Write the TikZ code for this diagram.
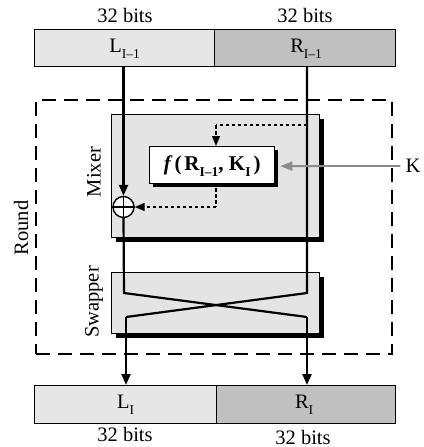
\documentclass[tikz,border=0pt]{standalone}
\usepackage{fontspec}
\setmainfont{Liberation Serif}
\usetikzlibrary{arrows.meta,calc}
\definecolor{lightg}{HTML}{E6E6E6}
\definecolor{darkg}{HTML}{C0C0C0}
\definecolor{boxg}{HTML}{E4E4E4}
\definecolor{keyg}{HTML}{8C8C8C}
\newcommand\mysub[1]{\raisebox{-0.28em}{\fontsize{13.5}{14}\selectfont #1}}
\begin{document}
\begin{tikzpicture}[x=1pt,y=-1pt,
  txt/.style={font=\fontsize{20.5}{22}\selectfont, inner sep=0pt},
  box/.style={draw=black, line width=1.3pt, inner sep=0pt, anchor=north west},
  lbox/.style={box, fill=lightg},
  dbox/.style={box, fill=darkg},
  gbox/.style={box, fill=boxg},
  wbox/.style={box, fill=white},
  wire/.style={line width=2.2pt, line join=miter},
  tip/.style={-{Triangle[length=11pt,width=9pt]}},
  dline/.style={line width=1.3pt, dash pattern=on 3.5pt off 2.5pt},
  dtip/.style={-{Triangle[length=10pt,width=8pt]}},
  shadow/.style={fill=black}
]
\useasboundingbox (0,0) rectangle (423,447);

% top registers
\node[lbox, minimum width=180pt, minimum height=37pt] (Lt) at (34,29) {};
\node[dbox, minimum width=181pt, minimum height=37pt] (Rt) at (214,29) {};
\node[txt] (Ltl) at ($(Lt.center)+(0,1)$) {L\mysub{I–1}};
\node[txt] (Rtl) at ($(Rt.center)+(1,1)$) {R\mysub{I–1}};
\node[txt] (bl1) at (125,15) {32 bits};
\node[txt] (bl2) at (305,15) {32 bits};

% round dashed frame
\node[box, draw=black, line width=1.7pt, dash pattern=on 14pt off 8pt, minimum width=356pt, minimum height=254pt] (round) at (35,99) {};
\node[txt, rotate=90] (roundl) at (21,228) {Round};

% mixer
\fill[shadow] (116,119) rectangle (324,242);
\node[gbox, minimum width=208pt, minimum height=123pt] (mix) at (111,114) {};
\node[txt, rotate=90] (mixl) at (94,172) {Mixer};

% f box
\fill[shadow] (153,150) rectangle (278,187);
\node[wbox, minimum width=125pt, minimum height=37pt] (fb) at (149,146) {};
\node[txt, font=\fontsize{21}{22}\selectfont\bfseries] (fl) at ($(fb.center)+(0,1)$) {\textit{f}\hspace{2pt}(\hspace{3pt}R\mysub{I–1}, K\mysub{I}\hspace{3pt})};

% swapper
\fill[shadow] (116,277) rectangle (324,338);
\node[gbox, minimum width=208pt, minimum height=61pt] (swp) at (111,272) {};
\node[txt, rotate=90] (swpl) at (94,302) {Swapper};

% XOR
\node[draw=black, line width=1.4pt, fill=white, circle, minimum size=21pt, inner sep=0pt] (xor) at (123.5,207) {};
\draw[line width=1.4pt] (xor.north) -- (xor.south) (xor.west) -- (xor.east);

% bottom registers
\node[lbox, minimum width=182pt, minimum height=38pt] (Lb) at (34,385) {};
\node[dbox, minimum width=179pt, minimum height=38pt] (Rb) at (216,385) {};
\node[txt] (Lbl) at ($(Lb.center)+(0,0)$) {L\mysub{I}};
\node[txt] (Rbl) at ($(Rb.center)+(-2,0)$) {R\mysub{I}};
\node[txt] (bl3) at (125,434) {32 bits};
\node[txt] (bl4) at (303,437) {32 bits};

% key
\node[txt] (K) at (413,166) {K};

% coordinates
\coordinate (rtop) at (307,66);
\coordinate (sA) at (124,293);
\coordinate (sB) at (307,293);
\coordinate (sC) at (126,317);
\coordinate (sD) at (307,317);
\coordinate (tap) at (307,125);
\coordinate (tapc) at (216,125);
\coordinate (fout) at (216,188);
\coordinate (foutc) at (216,207);

% wires
\draw[wire, tip] (Lt.south -| xor) -- (xor.north);
\draw[wire] (xor.south) -- (sA) -- (sD);
\draw[wire] (rtop) -- (sB) -- (sC);
\draw[wire, tip] (sC) -- (sC |- Lb.north);
\draw[wire, tip] (sD) -- (sD |- Rb.north);

% dashed data paths
\draw[dline] (tap) -- (tapc);
\draw[dline, dtip] (tapc) -- (tapc |- fb.north);
\draw[dline] (fout) -- (foutc);
\draw[dline, dtip] (foutc) -- (xor.east);

% key arrow
\draw[line width=1.8pt, draw=keyg, -{Triangle[length=12pt,width=9pt]}] (K.west) ++(-5,0) -- ($(fb.east)+(5,1)$);
\end{tikzpicture}
\end{document}
